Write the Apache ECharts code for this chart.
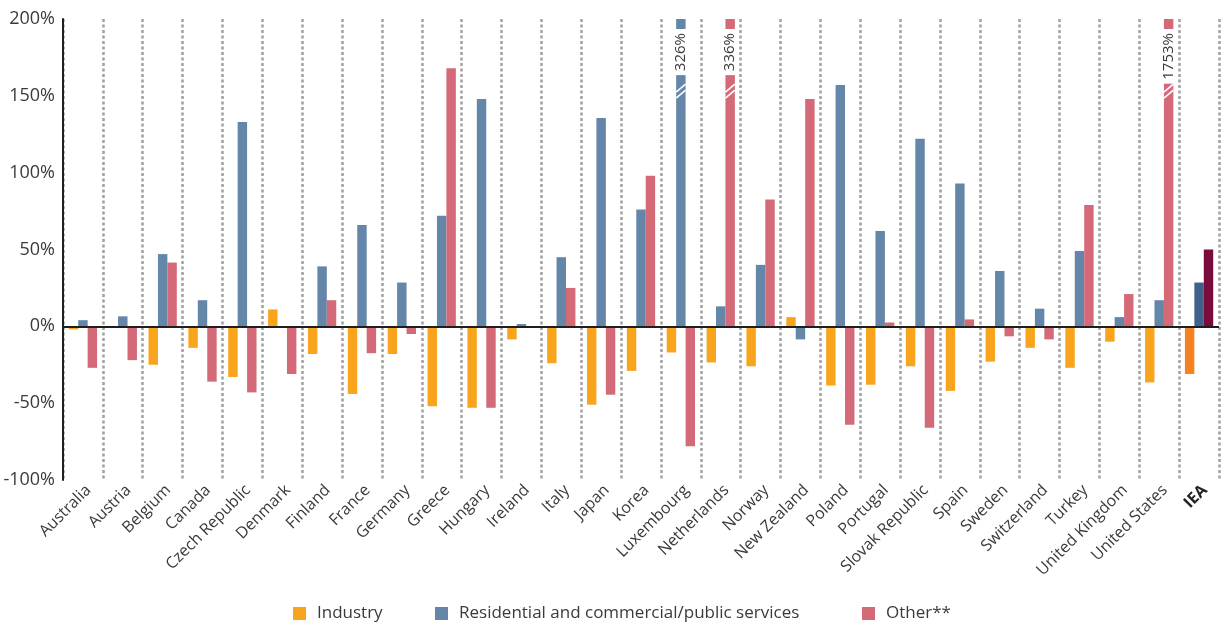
<!DOCTYPE html>
<html>
<head>
<meta charset="utf-8">
<script src="https://cdn.jsdelivr.net/npm/echarts@6/dist/echarts.min.js"></script>
<style>
  html, body { margin: 0; padding: 0; background: #fff; }
  #chart { width: 1225px; height: 626px; }
</style>
</head>
<body>
<div id="chart"></div>
<script>
// Change in energy use by sector, per country (%)
const categories = ['Australia', 'Austria', 'Belgium', 'Canada', 'Czech Republic', 'Denmark', 'Finland',
  'France', 'Germany', 'Greece', 'Hungary', 'Ireland', 'Italy', 'Japan', 'Korea', 'Luxembourg',
  'Netherlands', 'Norway', 'New Zealand', 'Poland', 'Portugal', 'Slovak Republic', 'Spain', 'Sweden',
  'Switzerland', 'Turkey', 'United Kingdom', 'United States', 'IEA'];

const industry = [-2, -1, -25, -14, -33, 11, -18, -44, -18, -52, -53, -8.5, -24, -51, -29, -17,
  -23.5, -26, 6, -38.5, -38, -26, -42, -23, -14, -27, -10, -36.5, -31];

const residential = [4, 6.5, 47, 17, 133, 0, 39, 66, 28.5, 72, 148, 1.5, 45, 135.5, 76, 326,
  13, 40, -8.5, 157, 62, 122, 93, 36, 11.5, 49, 6, 17, 28.5];

const other = [-27, -22, 41.5, -36, -43, -31, 17, -17.5, -5, 168, -53, 0, 25, -44.5, 98, -78,
  336, 82.5, 148, -64, 2.5, -66, 4.5, -6.5, -8.5, 79, 21, 1753, 50];

const yTicks = { min: -100, max: 200, interval: 50 };

const seriesNames = ['Industry', 'Residential and commercial/public services', 'Other**'];
const colors = ['#F8A51D', '#6386A9', '#D46A78'];
const ieaColors = ['#F38321', '#40628A', '#7A0C3D'];

const FONT = '"Open Sans", "Noto Sans", sans-serif';
const TEXT = '#3a3a3a';
const BAR_GAP_RATIO = 0.29;   // share of each category band left empty
const BREAK_LEVEL = 153;      // axis value where the axis-break slashes are drawn

const yMax = yTicks.max;

function buildData(values, sIdx) {
  return values.map((v, i) => {
    const item = { value: v };
    if (i === categories.length - 1) {
      item.itemStyle = { color: ieaColors[sIdx] };
    }
    if (v > yMax) {
      item.label = {
        show: true,
        formatter: v + '%',
        position: 'insideTop',
        rotate: 90,
        align: 'right',
        verticalAlign: 'middle',
        distance: 10,
        backgroundColor: '#fff',
        padding: [0, 4],
        fontSize: 15,
        fontFamily: FONT,
        color: TEXT
      };
    }
    return item;
  });
}

// bars that run past the top of the axis get a break marker
const breaks = [];
[industry, residential, other].forEach((arr, s) => {
  arr.forEach((v, i) => { if (v > yMax) breaks.push([i, s]); });
});

const valueSeries = [industry, residential, other].map((arr, s) => ({
  name: seriesNames[s],
  type: 'bar',
  data: buildData(arr, s),
  itemStyle: { color: colors[s] },
  barGap: '0%',
  barCategoryGap: (BAR_GAP_RATIO * 100) + '%',
  clip: true,
  z: 2
}));

// zero line drawn on top of the bars
valueSeries[0].markLine = {
  silent: true,
  symbol: 'none',
  label: { show: false },
  lineStyle: { color: '#1e1e1e', width: 2, type: 'solid' },
  data: [{ yAxis: 0 }],
  z: 5
};

const breakSeries = {
  type: 'custom',
  silent: true,
  z: 6,
  data: breaks,
  renderItem(params, api) {
    const cat = api.value(0);
    const slot = api.value(1);
    const center = api.coord([cat, BREAK_LEVEL]);
    const band = api.size([1, 0])[0];
    const bw = band * (1 - BAR_GAP_RATIO) / 3;
    const x0 = center[0] - band * (1 - BAR_GAP_RATIO) / 2 + bw * slot;
    const x1 = x0 + bw;
    const y = center[1];
    const style = { stroke: '#fff', lineWidth: 1.6 };
    return {
      type: 'group',
      children: [
        { type: 'line', shape: { x1: x0, y1: y + 1, x2: x1, y2: y - 7 }, style },
        { type: 'line', shape: { x1: x0, y1: y + 7, x2: x1, y2: y - 1 }, style }
      ]
    };
  }
};

const legendBase = {
  orient: 'horizontal',
  top: 605,
  padding: 0,
  itemWidth: 13,
  itemHeight: 13,
  icon: 'rect',
  textStyle: { fontSize: 17, color: TEXT, fontFamily: FONT, padding: [0, 0, 0, 6] },
  selectedMode: false
};

const chart = echarts.init(document.getElementById('chart'), null, { renderer: 'canvas' });

chart.setOption({
  animation: false,
  backgroundColor: '#fff',
  grid: { left: 63, right: 6, top: 19, bottom: 146, containLabel: false },
  legend: [
    Object.assign({}, legendBase, { left: 293, data: [seriesNames[0]] }),
    Object.assign({}, legendBase, { left: 435, data: [seriesNames[1]] }),
    Object.assign({}, legendBase, { left: 862, data: [seriesNames[2]] })
  ],
  xAxis: {
    type: 'category',
    data: categories,
    boundaryGap: true,
    axisLine: { show: false, onZero: false },
    axisTick: { show: false },
    splitLine: {
      show: true,
      interval: 0,
      lineStyle: { color: '#a0a0a0', width: 2.5, type: [3, 2.5] }
    },
    axisLabel: {
      interval: 0,
      rotate: 45,
      margin: 2,
      verticalAlign: 'top',
      fontSize: 16,
      fontFamily: FONT,
      color: TEXT,
      formatter: (v) => v === 'IEA' ? '{b|' + v + '}' : v,
      rich: { b: { fontWeight: 'bold', fontSize: 16, fontFamily: FONT, color: '#222' } }
    }
  },
  yAxis: {
    type: 'value',
    min: yTicks.min,
    max: yTicks.max,
    interval: yTicks.interval,
    axisLine: { show: true, lineStyle: { color: '#1e1e1e', width: 2 } },
    axisTick: { show: false },
    splitLine: { show: false },
    axisLabel: {
      formatter: '{value}%',
      fontSize: 18,
      fontFamily: FONT,
      color: TEXT,
      margin: 8
    }
  },
  series: valueSeries.concat([breakSeries])
});
</script>
</body>
</html>
